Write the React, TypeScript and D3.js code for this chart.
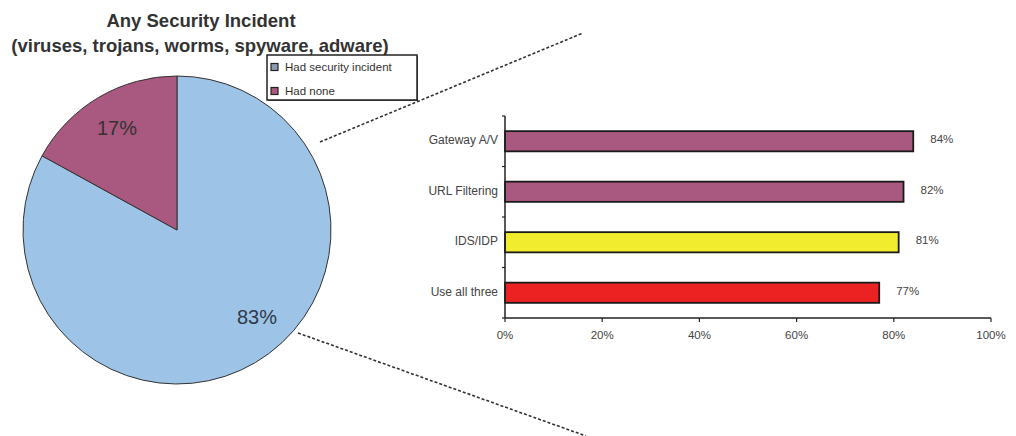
import React from "react";
import * as d3 from "d3";

// ---- Data ----
const pieCategories = ["Had security incident", "Had none"];
const pieValues = [83, 17];
const pieLabels = ["83%", "17%"];

const barCategories = ["Gateway A/V", "URL Filtering", "IDS/IDP", "Use all three"];
const barValues = [84, 82, 81, 77];
const xTicks = [0, 20, 40, 60, 80, 100];
const titleLines = ["Any Security Incident", "(viruses, trojans, worms, spyware, adware)"];

// ---- Styles / layout ----
const W = 1016;
const H = 436;
const FONT = "'Liberation Sans', Arial, Helvetica, sans-serif";
const pieColors = ["#9DC3E6", "#A9587F"];
const barColors = ["#A9587F", "#A9587F", "#F2EC2E", "#EC2222"];
const TEXT = "#333";

const pieCx = 177;
const pieCy = 230;
const pieR = 154;
const labelR = 118;
const labelAngleShift = [-0.21, 0];

const plot = { left: 505, right: 991, top: 116, bottom: 318 };

export default function App() {
  const pie = d3.pie<number>().sort(null).value((d) => d)(pieValues);
  const arc = d3.arc<d3.PieArcDatum<number>>().innerRadius(0).outerRadius(pieR);

  const x = d3.scaleLinear().domain([0, 100]).range([plot.left, plot.right]);
  const y = d3
    .scaleBand<string>()
    .domain(barCategories)
    .range([plot.top, plot.bottom])
    .paddingInner(0.6)
    .paddingOuter(0.3);
  const bandStep = (plot.bottom - plot.top) / barCategories.length;
  const bandCenter = (c: string) => y(c)! + y.bandwidth() / 2;

  return (
    <svg
      width={W}
      height={H}
      style={{ position: "absolute", left: 0, top: 0, background: "#fff" }}
      fontFamily={FONT}
    >
      <rect x={0} y={0} width={W} height={H} fill="#fff" />

      {/* Title */}
      <text x={201} y={27} textAnchor="middle" fontSize={18.5} fontWeight="bold" fill={TEXT}>
        {titleLines[0]}
      </text>
      <text x={200} y={52} textAnchor="middle" fontSize={18.5} fontWeight="bold" fill={TEXT}>
        {titleLines[1]}
      </text>

      {/* Connector dashed lines */}
      <line x1={320} y1={142} x2={583} y2={33} stroke="#333" strokeWidth={1.6} strokeDasharray="3,2" />
      <line x1={298} y1={333} x2={586} y2={436} stroke="#333" strokeWidth={1.6} strokeDasharray="3,2" />

      {/* Pie */}
      <g transform={`translate(${pieCx},${pieCy})`}>
        {pie.map((p, i) => (
          <path key={i} d={arc(p)!} fill={pieColors[i]} stroke="#333" strokeWidth={1} />
        ))}
        {pie.map((p, i) => {
          const a = (p.startAngle + p.endAngle) / 2 + labelAngleShift[i];
          return (
            <text
              key={"l" + i}
              x={Math.sin(a) * labelR}
              y={-Math.cos(a) * labelR}
              textAnchor="middle"
              dominantBaseline="central"
              fontSize={20}
              fill={i === 0 ? "#2f3a4a" : TEXT}
            >
              {pieLabels[i]}
            </text>
          );
        })}
      </g>

      {/* Legend */}
      <g>
        <rect x={268} y={56} width={150} height={45} fill="#555" />
        <rect x={267} y={55} width={150} height={45} fill="#fff" stroke="#222" strokeWidth={1.5} />
        {pieCategories.map((c, i) => (
          <g key={c} transform={`translate(271,${67 + i * 24})`}>
            <rect x={0} y={-3.5} width={7} height={7} fill={i === 0 ? "#8c9bb0" : pieColors[1]} stroke="#222" strokeWidth={1.2} />
            <text x={14} y={0} dominantBaseline="central" fontSize={11.5} fill={TEXT}>
              {c}
            </text>
          </g>
        ))}
      </g>

      {/* Bars */}
      {barCategories.map((c, i) => (
        <rect
          key={c}
          x={x(0)}
          y={y(c)!}
          width={x(barValues[i]) - x(0)}
          height={y.bandwidth()}
          fill={barColors[i]}
          stroke="#1a1a1a"
          strokeWidth={1.8}
        />
      ))}
      {barCategories.map((c, i) => (
        <text
          key={"v" + c}
          x={x(barValues[i]) + 17}
          y={bandCenter(c) - 2}
          dominantBaseline="central"
          fontSize={11.5}
          fill="#444"
        >
          {barValues[i]}%
        </text>
      ))}

      {/* Y axis */}
      <line x1={plot.left} y1={plot.top} x2={plot.left} y2={plot.bottom} stroke="#222" strokeWidth={1.5} />
      {d3.range(barCategories.length + 1).map((k) => (
        <line
          key={"yt" + k}
          x1={plot.left - 3}
          x2={plot.left}
          y1={plot.top + k * bandStep}
          y2={plot.top + k * bandStep}
          stroke="#222"
          strokeWidth={1.2}
        />
      ))}
      {barCategories.map((c) => (
        <text
          key={"c" + c}
          x={plot.left - 7}
          y={bandCenter(c) - 1}
          textAnchor="end"
          dominantBaseline="central"
          fontSize={12}
          fill="#444"
        >
          {c}
        </text>
      ))}

      {/* X axis */}
      <line x1={plot.left} y1={plot.bottom} x2={plot.right} y2={plot.bottom} stroke="#222" strokeWidth={1.5} />
      {xTicks.map((t) => (
        <g key={"xt" + t}>
          <line x1={x(t)} x2={x(t)} y1={plot.bottom} y2={plot.bottom + 4} stroke="#222" strokeWidth={1.2} />
          <text x={x(t)} y={plot.bottom + 17} textAnchor="middle" dominantBaseline="central" fontSize={11.5} fill="#444">
            {t}%
          </text>
        </g>
      ))}
    </svg>
  );
}
